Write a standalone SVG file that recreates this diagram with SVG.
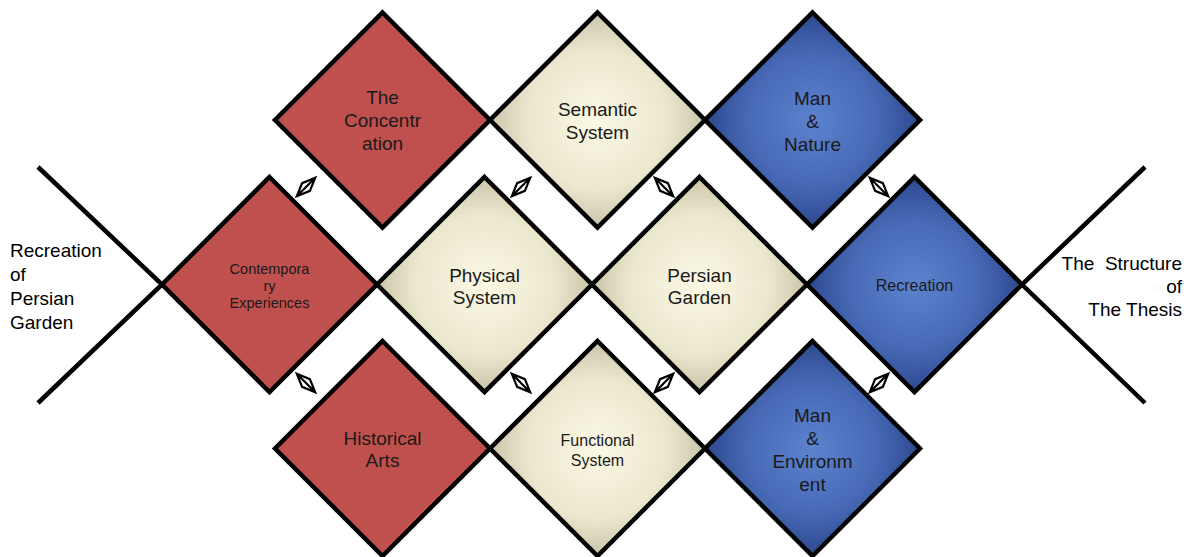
<svg xmlns="http://www.w3.org/2000/svg" width="1191" height="557" viewBox="0 0 1191 557">
<defs>
<radialGradient id="gBeige" cx="50%" cy="50%" r="50%">
<stop offset="0" stop-color="#FBF8E4"/>
<stop offset="0.65" stop-color="#ECE8CF"/>
<stop offset="1" stop-color="#C9C4A8"/>
</radialGradient>
<radialGradient id="gBlue" cx="50%" cy="50%" r="50%">
<stop offset="0" stop-color="#5C82CE"/>
<stop offset="0.6" stop-color="#486AB6"/>
<stop offset="1" stop-color="#2C488E"/>
</radialGradient>
<g id="arr">
<path d="M0,-13 L5.5,0 L0,13 L-5.5,0 Z M0,-13 L0,13" fill="none" stroke="#000" stroke-width="2.2" stroke-linejoin="miter"/>
</g>
</defs>
<style>
.d{stroke:#000;stroke-width:4.5;stroke-linejoin:miter}
.red{fill:#C0504D}
.beige{fill:url(#gBeige)}
.blue{fill:url(#gBlue)}
.t{font-family:"Liberation Sans",Arial,sans-serif;fill:#1a1a1a;text-anchor:middle}
.L{font-size:19px}
.M{font-size:16px}
.S{font-size:14.5px}
.side{font-family:"Liberation Sans",Arial,sans-serif;fill:#000;font-size:19px}
.ln{stroke:#000;stroke-width:4.5;fill:none}
</style>
<rect width="1191" height="557" fill="#fff"/>

<g id="connectors">
<path class="ln" d="M38,167 L162,284.5 L38,403"/>
<path class="ln" d="M1145,167 L1022,284.5 L1145,403"/>
<use href="#arr" transform="translate(306,187) rotate(45)"/>
<use href="#arr" transform="translate(521,187) rotate(45)"/>
<use href="#arr" transform="translate(664,187) rotate(-45)"/>
<use href="#arr" transform="translate(879,187) rotate(-45)"/>
<use href="#arr" transform="translate(306,383) rotate(-45)"/>
<use href="#arr" transform="translate(521,383) rotate(-45)"/>
<use href="#arr" transform="translate(664,383) rotate(45)"/>
<use href="#arr" transform="translate(879,383) rotate(45)"/>
</g>

<g id="concentration">
<polygon class="d red" points="382.5,12.5 490,120 382.5,227.5 275,120"/>
<text class="t L" x="382.5" y="104">The</text>
<text class="t L" x="382.5" y="127">Concentr</text>
<text class="t L" x="382.5" y="150">ation</text>
</g>
<g id="semantic">
<polygon class="d beige" points="597.5,12.5 705,120 597.5,227.5 490,120"/>
<text class="t L" x="597.5" y="116">Semantic</text>
<text class="t L" x="597.5" y="139">System</text>
</g>
<g id="mannature">
<polygon class="d blue" points="812.5,12.5 920,120 812.5,227.5 705,120"/>
<text class="t L" x="812.5" y="105">Man</text>
<text class="t L" x="812.5" y="128">&amp;</text>
<text class="t L" x="812.5" y="151">Nature</text>
</g>

<g id="contemporary">
<polygon class="d red" points="269.5,177 377,284.5 269.5,392 162,284.5"/>
<text class="t S" x="269.5" y="274">Contempora</text>
<text class="t S" x="269.5" y="291">ry</text>
<text class="t S" x="269.5" y="308">Experiences</text>
</g>
<g id="physical">
<polygon class="d beige" points="484.5,177 592,284.5 484.5,392 377,284.5"/>
<text class="t L" x="484.5" y="282">Physical</text>
<text class="t L" x="484.5" y="304">System</text>
</g>
<g id="persiangarden">
<polygon class="d beige" points="699.5,177 807,284.5 699.5,392 592,284.5"/>
<text class="t L" x="699.5" y="282">Persian</text>
<text class="t L" x="699.5" y="304">Garden</text>
</g>
<g id="recreation">
<polygon class="d blue" points="914.5,177 1022,284.5 914.5,392 807,284.5"/>
<text class="t M" x="914.5" y="291">Recreation</text>
</g>

<g id="historical">
<polygon class="d red" points="382.5,341 490,448.5 382.5,556 275,448.5"/>
<text class="t L" x="382.5" y="445">Historical</text>
<text class="t L" x="382.5" y="467">Arts</text>
</g>
<g id="functional">
<polygon class="d beige" points="597.5,341 705,448.5 597.5,556 490,448.5"/>
<text class="t M" x="597.5" y="446">Functional</text>
<text class="t M" x="597.5" y="466">System</text>
</g>
<g id="manenv">
<polygon class="d blue" points="812.5,341 920,448.5 812.5,556 705,448.5"/>
<text class="t L" x="812.5" y="422">Man</text>
<text class="t L" x="812.5" y="445">&amp;</text>
<text class="t L" x="812.5" y="468">Environm</text>
<text class="t L" x="812.5" y="491">ent</text>
</g>

<g id="leftlabel">
<text class="side" x="10" y="257">Recreation</text>
<text class="side" x="10" y="281">of</text>
<text class="side" x="10" y="305">Persian</text>
<text class="side" x="10" y="329">Garden</text>
</g>
<g id="rightlabel">
<text class="side" x="1182" y="270" text-anchor="end" xml:space="preserve">The  Structure</text>
<text class="side" x="1182" y="293" text-anchor="end">of</text>
<text class="side" x="1182" y="316" text-anchor="end">The Thesis</text>
</g>
</svg>
